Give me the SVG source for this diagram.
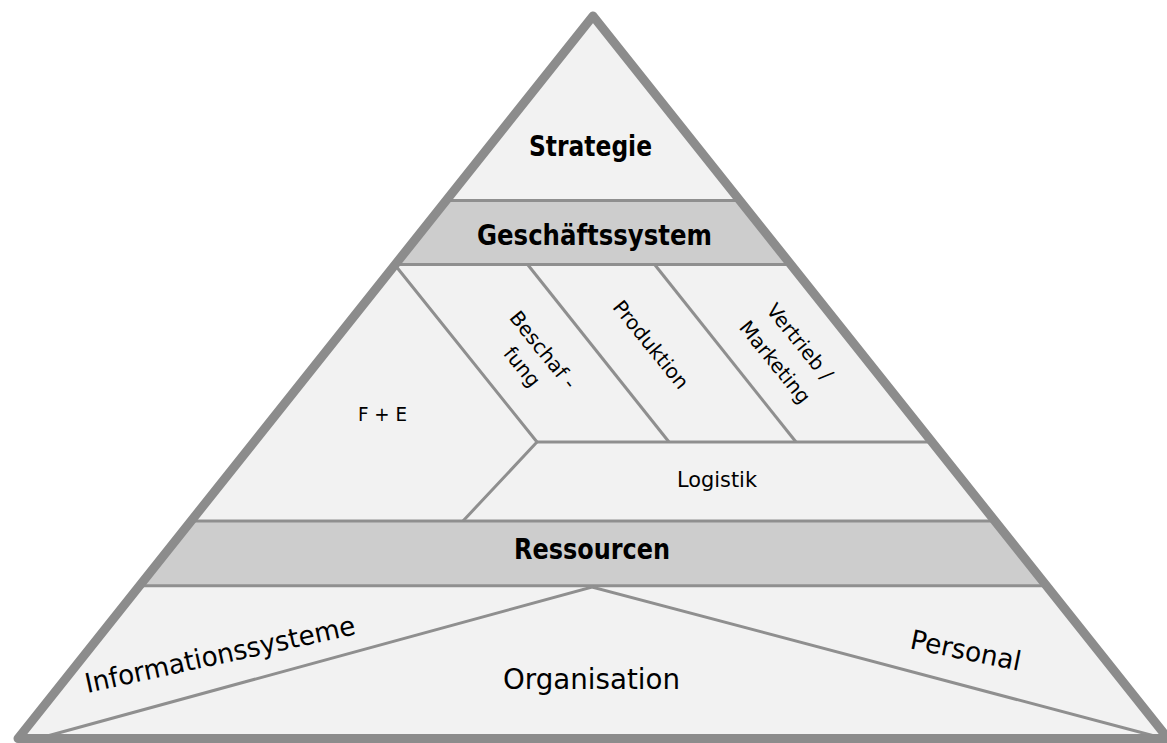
<svg xmlns="http://www.w3.org/2000/svg" width="1167" height="743" viewBox="0 0 1167 743">
<style>
.fill{fill:#f2f2f2}
.band{fill:#cdcdcd}
.ln{stroke:#8f8f8f;stroke-width:3;fill:none;stroke-linecap:butt}
.edge{fill:none;stroke:#8c8c8c;stroke-width:9;stroke-linejoin:round}
.t{font-family:"DejaVu Sans","Liberation Sans",sans-serif;fill:#000;text-anchor:middle}
.b{font-weight:bold;font-size:28px}
.r{font-size:28px}
.s{font-size:20px}
</style>
<rect width="1167" height="743" fill="#ffffff"/>
<g id="pyramid-bg">
<polygon class="fill" points="593,16 1168,738.5 18,738.5"/>
</g>
<g id="strategie">
<text class="t b" x="590.5" y="156" textLength="123" lengthAdjust="spacingAndGlyphs">Strategie</text>
</g>
<g id="geschaeftssystem">
<polygon class="band" points="445.7,200.5 740.3,200.5 791.2,264.5 394.8,264.5"/>
<text class="t b" x="594.5" y="245" textLength="235" lengthAdjust="spacingAndGlyphs">Geschäftssystem</text>
</g>
<g id="fe">
<text class="t" style="font-size:19px" x="382.5" y="421" textLength="49" lengthAdjust="spacingAndGlyphs">F + E</text>
</g>
<g id="beschaffung">
<text class="t s" transform="translate(533,358) rotate(51)"><tspan x="0" y="-6">Beschaf -</tspan><tspan x="0" y="21">fung</tspan></text>
</g>
<g id="produktion">
<text class="t s" transform="translate(645.5,349) rotate(51)">Produktion</text>
</g>
<g id="vertrieb">
<text class="t s" transform="translate(787.5,352) rotate(51)"><tspan x="0" y="-9">Vertrieb /</tspan><tspan x="0" y="23">Marketing</tspan></text>
</g>
<g id="logistik">
<text class="t" style="font-size:21px" x="717" y="487" textLength="80" lengthAdjust="spacingAndGlyphs">Logistik</text>
</g>
<g id="ressourcen">
<polygon class="band" points="191,521 995,521 1046.7,585.7 139.3,585.7"/>
<text class="t b" x="592" y="559" textLength="156" lengthAdjust="spacingAndGlyphs">Ressourcen</text>
</g>
<g id="informationssysteme">
<text class="t r" style="font-size:27px" transform="translate(222,663.5) rotate(-12.3)" textLength="276" lengthAdjust="spacingAndGlyphs">Informationssysteme</text>
</g>
<g id="organisation">
<text class="t r" x="591.5" y="689" textLength="177" lengthAdjust="spacingAndGlyphs">Organisation</text>
</g>
<g id="personal">
<text class="t r" style="font-size:27px" transform="translate(964,659.5) rotate(11.5)" textLength="112" lengthAdjust="spacingAndGlyphs">Personal</text>
</g>
<g id="connectors">
<line class="ln" x1="445.7" y1="200.5" x2="740.3" y2="200.5"/>
<line class="ln" x1="394.8" y1="264.5" x2="791.2" y2="264.5"/>
<line class="ln" x1="191" y1="521" x2="995" y2="521"/>
<line class="ln" x1="139.3" y1="585.7" x2="1046.7" y2="585.7"/>
<polyline class="ln" points="395,265 537,442 463,521"/>
<line class="ln" x1="528" y1="265" x2="669" y2="442"/>
<line class="ln" x1="655" y1="265" x2="796" y2="442"/>
<line class="ln" x1="537" y1="442" x2="932" y2="442"/>
<polyline class="ln" points="40,738 592,587 1162,738"/>
</g>
<g id="outline">
<polygon class="edge" points="593,16 1168,738.5 18,738.5"/>
</g>
</svg>
